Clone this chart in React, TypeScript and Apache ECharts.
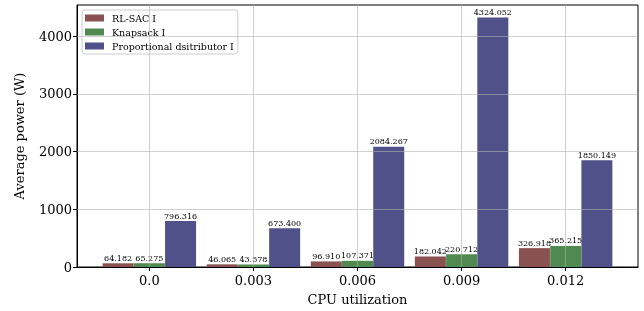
import React, { useEffect, useRef } from "react";
import * as echarts from "echarts";

const categories = ["0.0", "0.003", "0.006", "0.009", "0.012"];
const rlSac = [64.182, 46.065, 96.91, 182.042, 326.918];
const knapsack = [65.275, 43.578, 107.371, 220.712, 365.215];
const proportional = [796.316, 673.4, 2084.267, 4324.052, 1850.149];
const seriesNames = ["RL-SAC I", "Knapsack I", "Proportional dsitributor I"];
const yTicks = [1000, 2000, 3000, 4000];

const FONT = "DejaVu Serif";

export default function App() {
  const ref = useRef<HTMLDivElement>(null);
  useEffect(() => {
    if (!ref.current) return;
    const chart = echarts.init(ref.current, undefined, { renderer: "svg" });
    const catIdx = categories.map((_, i) => i);
    const offsets = [-0.3, 0, 0.3];
    const colors = ["#8a5151", "#518a51", "#51518a"];
    const all = [rlSac, knapsack, proportional];
    const gridColor = "rgba(176,176,176,0.6)";
    const series: any[] = all.map((vals, s) => ({
      type: "bar",
      name: seriesNames[s],
      data: vals.map((v, i) => [i + offsets[s], v]),
      barWidth: 31,
      barGap: "-100%",
      itemStyle: { color: colors[s] },
      label: {
        show: true,
        position: "top",
        distance: 1,
        fontFamily: FONT,
        fontSize: 8,
        color: "#000",
        formatter: (p: any) => (p.value[1] as number).toFixed(3),
      },
    }));
    series[2].markLine = {
      silent: true,
      symbol: "none",
      z: 5,
      label: { show: false },
      lineStyle: { color: gridColor, width: 1, type: "solid" },
      data: [
        ...catIdx.map((i) => ({ xAxis: i })),
        ...yTicks.map((t) => ({ yAxis: t })),
      ],
    };
    chart.setOption({
      animation: false,
      textStyle: { fontFamily: FONT },
      grid: {
        left: 77,
        right: 6,
        top: 5,
        bottom: 40,
        show: true,
        borderColor: "#000",
        borderWidth: 1,
      },
      legend: {
        orient: "vertical",
        left: 82,
        top: 10,
        padding: [3, 4, 3, 3],
        itemWidth: 19,
        itemHeight: 7,
        itemGap: 4,
        backgroundColor: "rgba(255,255,255,0.8)",
        borderColor: "#cccccc",
        borderWidth: 1,
        borderRadius: 3,
        icon: "rect",
        textStyle: {
          fontFamily: FONT,
          fontSize: 9.5,
          color: "#000",
          padding: [0, 0, 0, 3],
        },
        data: seriesNames,
      },
      xAxis: {
        type: "value",
        min: -0.695,
        max: 4.695,
        name: "CPU utilization",
        nameLocation: "middle",
        nameGap: 26,
        nameTextStyle: { fontFamily: FONT, fontSize: 13, color: "#000" },
        axisLine: { show: true, onZero: false, lineStyle: { color: "#000", width: 1 } },
        axisTick: {
          show: true,
          customValues: catIdx,
          length: 4,
          lineStyle: { color: "#000" },
        },
        axisLabel: {
          customValues: catIdx,
          fontFamily: FONT,
          fontSize: 13,
          color: "#000",
          margin: 7,
          formatter: (v: number) => categories[Math.round(v)] ?? "",
        },
        splitLine: { show: false },
      },
      yAxis: {
        type: "value",
        min: 0,
        max: 4540,
        interval: 1000,
        name: "Average power (W)",
        nameLocation: "middle",
        nameGap: 51,
        nameTextStyle: { fontFamily: FONT, fontSize: 13, color: "#000" },
        axisLine: { show: true, onZero: false, lineStyle: { color: "#000", width: 1 } },
        axisTick: { show: true, length: 4, lineStyle: { color: "#000" } },
        axisLabel: {
          fontFamily: FONT,
          fontSize: 13,
          color: "#000",
          margin: 5,
          showMaxLabel: false,
          formatter: (v: number) => (v % 1000 === 0 ? String(v) : ""),
        },
        splitLine: { show: false },
      },
      series,
    });
    return () => chart.dispose();
  }, []);
  return (
    <div
      ref={ref}
      style={{ position: "fixed", left: 0, top: 0, width: 644, height: 311 }}
    />
  );
}
